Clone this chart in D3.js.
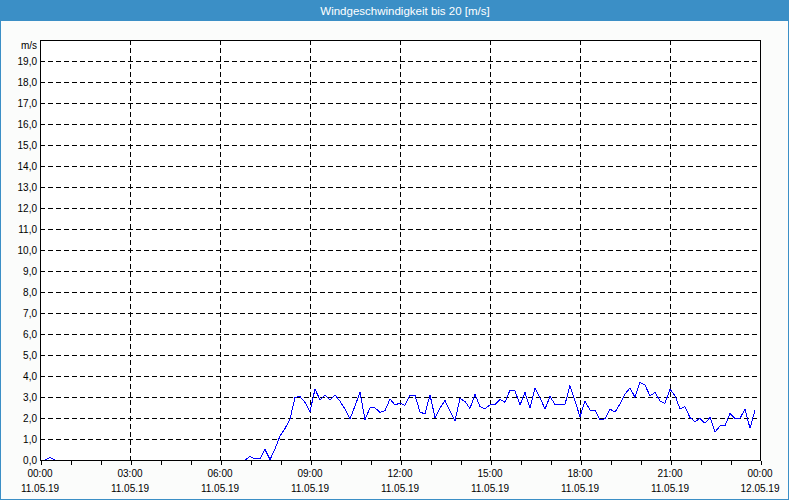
<!DOCTYPE html>
<html>
<head>
<meta charset="utf-8">
<script src="https://cdn.jsdelivr.net/npm/d3@7"></script>
<style>
  html, body { margin: 0; padding: 0; background: #ffffff; }
  svg { display: block; }
  text { font-family: "Liberation Sans", Arial, sans-serif; }
</style>
</head>
<body>
<svg id="chart" width="800" height="500"></svg>
<script>
// ---- data ----
const chartTitle = "Windgeschwindigkeit bis 20 [m/s]";
const unitLabel = "m/s";
const startTime = new Date(2019, 4, 11, 0, 0);
const endTime = new Date(2019, 4, 12, 0, 0);
const intervalMinutes = 10;
// wind speed in m/s, one value every 10 minutes from 00:00 to 23:50
const windSpeed = [
  0, 0, 0.12, 0, 0, 0, 0, 0, 0, 0,
  0, 0, 0, 0, 0, 0, 0, 0, 0, 0,
  0, 0, 0, 0, 0, 0, 0, 0, 0, 0,
  0, 0, 0, 0, 0, 0, 0, 0, 0, 0,
  0, 0, 0.17, 0.05, 0.05, 0.5, 0.02, 0.52, 1.15, 1.5,
  1.95, 2.98, 3.02, 2.74, 2.3, 3.38, 2.86, 3.1, 2.86, 3.1,
  2.8, 2.42, 1.95, 2.57, 3.22, 1.92, 2.48, 2.48, 2.27, 2.35,
  2.9, 2.62, 2.71, 2.6, 3.08, 3.08, 2.29, 2.19, 3.1, 2.02,
  2.48, 2.83, 2.33, 1.87, 2.94, 2.78, 2.46, 3.13, 2.54, 2.43,
  2.63, 2.65, 2.89, 2.75, 3.33, 3.3, 2.62, 3.22, 2.46, 3.44,
  2.97, 2.43, 3.02, 2.65, 2.65, 2.65, 3.54, 2.81, 2.06, 2.81,
  2.38, 2.38, 1.9, 1.97, 2.42, 2.28, 2.68, 3.13, 3.44, 2.98,
  3.7, 3.57, 3.05, 3.22, 2.81, 2.7, 3.38, 3.06, 2.43, 2.54,
  2.02, 1.83, 1.98, 1.75, 2.03, 1.32, 1.63, 1.63, 2.22, 1.98,
  1.98, 2.43, 1.51, 2.38
];
const yTicks = [0,1,2,3,4,5,6,7,8,9,10,11,12,13,14,15,16,17,18,19];
const timeLabels = ["00:00","03:00","06:00","09:00","12:00","15:00","18:00","21:00","00:00"];
const dateLabels = ["11.05.19","11.05.19","11.05.19","11.05.19","11.05.19","11.05.19","11.05.19","11.05.19","12.05.19"];
const yMax = 20;

// ---- layout ----
const W = 800, H = 500;
const frameW = 789;
const plot = { left: 40, right: 760, top: 40, bottom: 460 };
const blue = "#3b8fc6";

const svg = d3.select("#chart");

// frame background + border
svg.append("rect").attr("x", 0.5).attr("y", 0.5)
  .attr("width", frameW - 1).attr("height", H - 1)
  .attr("fill", "#fbfcfb").attr("stroke", blue).attr("stroke-width", 1)
  .attr("shape-rendering", "crispEdges");

// title bar
svg.append("rect").attr("x", 0).attr("y", 0).attr("width", frameW).attr("height", 21)
  .attr("fill", blue).attr("shape-rendering", "crispEdges");
svg.append("text").attr("x", 405).attr("y", 10.5)
  .attr("text-anchor", "middle").attr("dominant-baseline", "central")
  .attr("fill", "#ffffff").attr("font-size", "11.5px")
  .text(chartTitle);

// scales
const x = d3.scaleTime().domain([startTime, endTime]).range([plot.left, plot.right]);
const y = d3.scaleLinear().domain([0, yMax]).range([plot.bottom, plot.top]);

const g = svg.append("g");

// plot background
g.append("rect").attr("x", plot.left).attr("y", plot.top)
  .attr("width", plot.right - plot.left).attr("height", plot.bottom - plot.top)
  .attr("fill", "#ffffff");

// horizontal dashed gridlines
g.append("g").selectAll("line").data(yTicks.filter(v => v > 0)).join("line")
  .attr("x1", plot.left).attr("x2", plot.right)
  .attr("y1", d => Math.round(y(d)) + 0.5).attr("y2", d => Math.round(y(d)) + 0.5)
  .attr("stroke", "#000").attr("stroke-width", 1)
  .attr("stroke-dasharray", "5,3").attr("shape-rendering", "crispEdges");

// vertical dashed gridlines every 3h
const majorTimes = d3.timeHour.every(3).range(startTime, d3.timeMinute.offset(endTime, 1));
g.append("g").selectAll("line").data(majorTimes.slice(1, -1)).join("line")
  .attr("x1", d => Math.round(x(d)) + 0.5).attr("x2", d => Math.round(x(d)) + 0.5)
  .attr("y1", plot.top).attr("y2", plot.bottom)
  .attr("stroke", "#000").attr("stroke-width", 1)
  .attr("stroke-dasharray", "5,3").attr("shape-rendering", "crispEdges");

// data line
const times = windSpeed.map((v, i) => d3.timeMinute.offset(startTime, i * intervalMinutes));
const line = d3.line().x((d, i) => x(times[i])).y(d => y(d));
g.append("path").datum(windSpeed)
  .attr("d", line).attr("fill", "none")
  .attr("stroke", "#0000ff").attr("stroke-width", 1)
  .attr("shape-rendering", "crispEdges");

// plot border
g.append("rect").attr("x", plot.left + 0.5).attr("y", plot.top + 0.5)
  .attr("width", plot.right - plot.left).attr("height", plot.bottom - plot.top)
  .attr("fill", "none").attr("stroke", "#000").attr("stroke-width", 1)
  .attr("shape-rendering", "crispEdges");

// bottom axis: hourly ticks
const xAxis = d3.axisBottom(x).ticks(d3.timeHour.every(1)).tickSize(4).tickFormat("");
const xa = svg.append("g").attr("transform", `translate(0.5,${plot.bottom + 0.5})`).call(xAxis);
xa.select(".domain").remove();
xa.selectAll("line").attr("stroke", "#000").attr("shape-rendering", "crispEdges");

// x labels (two lines)
const xl = svg.append("g");
xl.selectAll("text.time").data(majorTimes).join("text").attr("class", "time")
  .attr("x", d => x(d)).attr("y", 473)
  .attr("text-anchor", "middle").attr("dominant-baseline", "central")
  .attr("font-size", "10px").attr("fill", "#000")
  .text((d, i) => timeLabels[i]);
xl.selectAll("text.date").data(majorTimes).join("text").attr("class", "date")
  .attr("x", d => x(d)).attr("y", 488)
  .attr("text-anchor", "middle").attr("dominant-baseline", "central")
  .attr("font-size", "10px").attr("fill", "#000")
  .text((d, i) => dateLabels[i]);

// y labels
const fmt = v => d3.format(".1f")(v).replace(".", ",");
const yAxis = d3.axisLeft(y).tickValues(yTicks).tickSize(0).tickPadding(3).tickFormat(fmt);
const ya = svg.append("g").attr("transform", `translate(${plot.left},0.5)`).call(yAxis);
ya.select(".domain").remove();
ya.selectAll("text").attr("font-size", "10px").attr("fill", "#000")
  .attr("font-family", "'Liberation Sans', Arial, sans-serif");

// unit label
svg.append("text").attr("x", 37).attr("y", 45)
  .attr("text-anchor", "end").attr("dominant-baseline", "central")
  .attr("font-size", "10px").attr("fill", "#000").text(unitLabel);
</script>
</body>
</html>
